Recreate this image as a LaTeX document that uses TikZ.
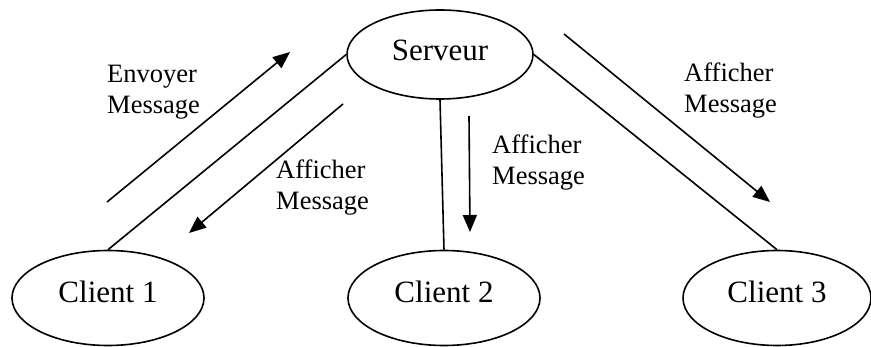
\documentclass[tikz,border=0pt]{standalone}
\usepackage{fontspec}
\setmainfont{Liberation Serif}
\usetikzlibrary{shapes.geometric,arrows.meta}
\begin{document}
\begin{tikzpicture}[x=1pt,y=-1pt,
  ent/.style={ellipse,draw,line width=1.6pt,inner sep=0pt,font=\fontsize{31}{36}\selectfont,text depth=12pt},
  link/.style={line width=1.6pt},
  msg/.style={line width=1.6pt,-{Triangle[length=17pt,width=14pt]}},
  lbl/.style={align=left,inner sep=0pt,font=\fontsize{26.5}{31}\selectfont,anchor=base west}]
\useasboundingbox (0,0) rectangle (871,347);
\node[ent,minimum width=186pt,minimum height=89pt,text depth=9pt] (srv) at (440,54.5) {Serveur};
\node[ent,minimum width=192pt,minimum height=95pt] (c1) at (108,298) {Client 1};
\node[ent,minimum width=192pt,minimum height=95pt] (c2) at (444,298) {Client 2};
\node[ent,minimum width=188pt,minimum height=95pt] (c3) at (777,298) {Client 3};
\draw[link] (c1.north) -- (srv.west);
\draw[link] (srv.south) -- (c2.north);
\draw[link] (srv.east) -- (c3.north);
\coordinate (a1s) at (107,202); \coordinate (a1e) at (290,52);
\coordinate (a2s) at (343,104); \coordinate (a2e) at (189,233);
\coordinate (a3s) at (469,116); \coordinate (a3e) at (470,232);
\coordinate (a4s) at (564,34); \coordinate (a4e) at (770,202);
\draw[msg] (a1s) -- (a1e);
\draw[msg] (a2s) -- (a2e);
\draw[msg] (a3s) -- (a3e);
\draw[msg] (a4s) -- (a4e);
\node[lbl] (l1) at (107,114) {Envoyer\\Message};
\node[lbl] (l2) at (276,210) {Afficher\\Message};
\node[lbl] (l3) at (492,185) {Afficher\\Message};
\node[lbl] (l4) at (684,113) {Afficher\\Message};
\end{tikzpicture}
\end{document}
